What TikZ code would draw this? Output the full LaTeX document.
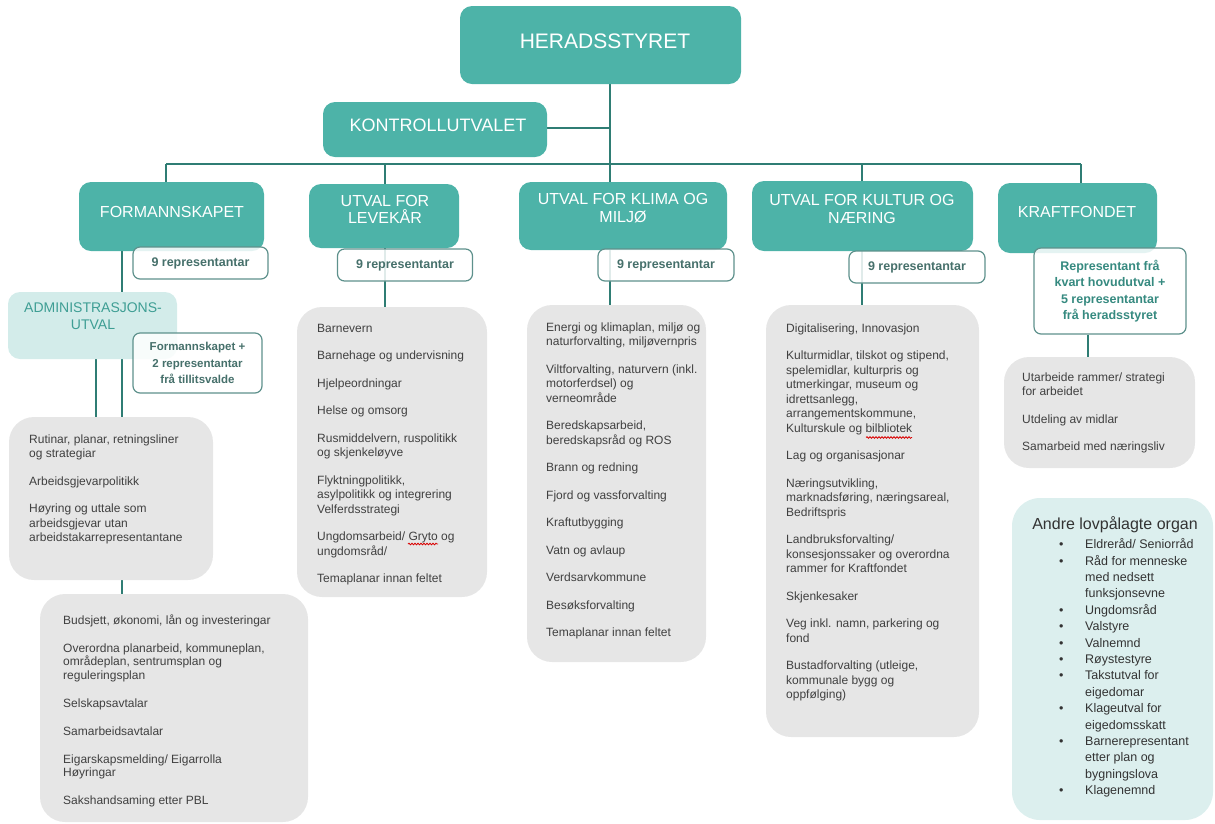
\documentclass[tikz,border=0pt]{standalone}
\usepackage{fontspec}
\setmainfont{Liberation Sans}
\usetikzlibrary{backgrounds,decorations.pathmorphing}
\definecolor{tealfill}{HTML}{4DB3A8}
\definecolor{linecol}{HTML}{2F7D74}
\definecolor{reprdraw}{HTML}{5E918C}
\definecolor{reprtxt}{HTML}{46706B}
\definecolor{kraftxt}{HTML}{368A80}
\definecolor{grayfill}{HTML}{E6E6E6}
\definecolor{graytxt}{HTML}{404040}
\definecolor{admfill}{HTML}{D3ECEA}
\definecolor{admtxt}{HTML}{3E9E94}
\definecolor{andrefill}{HTML}{DCEFEE}
\definecolor{andretxt}{HTML}{333333}
\begin{document}
\begin{tikzpicture}[x=1pt,y=-1pt,
 headbox/.style={fill=tealfill, rounded corners=12pt, inner sep=0},
 headtext/.style={text=white, align=center, inner sep=0, font=\fontsize{16}{17.5}\selectfont},
 reprbox/.style={draw=reprdraw, line width=1.2pt, fill=white, fill opacity=0.85, text opacity=1, rounded corners=7pt, inner sep=0, text=reprtxt, align=center, font=\bfseries\fontsize{12.5}{16.5}\selectfont},
 taskbox/.style={fill=grayfill, rounded corners=25pt, inner sep=0},
 tasktext/.style={anchor=north west, inner sep=0, align=left, text=graytxt, font=\fontsize{12}{14.5}\selectfont},
 conn/.style={draw=linecol, line width=2pt},
 spell/.style={draw=red!85!black, line width=0.8pt, decorate, decoration={snake, amplitude=0.8pt, segment length=3pt}},
]
\useasboundingbox (0,0) rectangle (1215,823);

% ---------- top level ----------
\node[headbox, minimum width=281pt, minimum height=78pt] (hs) at (600.5,45) {};
\node[headtext, font=\fontsize{21}{24}\selectfont] (hst) at (605,41) {HERADSSTYRET};

\node[headbox, minimum width=224pt, minimum height=55pt] (kon) at (435,129.5) {};
\node[headtext, font=\fontsize{18}{20}\selectfont] (kont) at (438,125) {KONTROLLUTVALET};

\coordinate (bus) at (610,164);
\coordinate (busL) at (166,164);
\coordinate (busR) at (1081,164);
\coordinate (xlev) at (385,164);
\coordinate (xkul) at (862,164);

% ---------- committees ----------
\node[headbox, minimum width=185pt, minimum height=69pt] (form) at (171.5,216.5) {};
\node[headtext] (formt) at (172,212) {FORMANNSKAPET};

\node[headbox, minimum width=150pt, minimum height=64pt] (lev) at (384,216) {};
\node[headtext] (levt) at (385,209.5) {UTVAL FOR\\LEVEKÅR};

\node[headbox, minimum width=208pt, minimum height=68pt] (kli) at (623,216) {};
\node[headtext] (klit) at (623,208) {UTVAL FOR KLIMA OG\\MILJØ};

\node[headbox, minimum width=221pt, minimum height=70pt] (kul) at (862.5,216) {};
\node[headtext] (kult) at (862,209) {UTVAL FOR KULTUR OG\\NÆRING};

\node[headbox, minimum width=159pt, minimum height=70pt] (kra) at (1077.5,218) {};
\node[headtext] (krat) at (1077,212) {KRAFTFONDET};

% ---------- representative boxes ----------
\node[reprbox, minimum width=135pt, minimum height=32pt] (r1) at (200.5,263) {9 representantar};
\node[reprbox, minimum width=135pt, minimum height=32pt] (r2) at (405,265) {9 representantar};
\node[reprbox, minimum width=136pt, minimum height=32pt] (r3) at (666,265) {9 representantar};
\node[reprbox, minimum width=136pt, minimum height=32pt] (r4) at (917,267) {9 representantar};
\node[reprbox, minimum width=152pt, minimum height=86pt, text=kraftxt] (r5) at (1110,291) {Representant frå\\kvart hovudutval +\\5 representantar\\frå heradsstyret};

% ---------- administrasjonsutval ----------
\node[fill=admfill, rounded corners=12pt, inner sep=0, minimum width=169pt, minimum height=67pt] (adm) at (92.5,325.5) {};
\node[inner sep=0, align=center, text=admtxt, font=\fontsize{14}{17}\selectfont] (admt) at (93,316) {ADMINISTRASJONS-\\UTVAL};
\node[reprbox, minimum width=129pt, minimum height=60pt, font=\bfseries\fontsize{11.5}{16.5}\selectfont] (r6) at (197.5,363) {Formannskapet +\\2 representantar\\frå tillitsvalde};

% ---------- task boxes ----------
\node[taskbox, minimum width=204pt, minimum height=163pt] (g1) at (111,498.5) {};
\node[tasktext] (g1t) at (29,434.5) {Rutinar, planar, retningsliner\\og strategiar\\[13pt]Arbeidsgjevarpolitikk\\[13pt]Høyring og uttale som\\arbeidsgjevar utan\\arbeidstakarrepresentantane};

\node[taskbox, minimum width=268pt, minimum height=228pt] (g2) at (174,708) {};
\node[tasktext, font=\fontsize{12}{13.5}\selectfont] (g2t) at (63,614.5) {Budsjett, økonomi, lån og investeringar\\[14.5pt]Overordna planarbeid, kommuneplan,\\områdeplan, sentrumsplan og\\reguleringsplan\\[14.5pt]Selskapsavtalar\\[14.5pt]Samarbeidsavtalar\\[14.5pt]Eigarskapsmelding/ Eigarrolla\\Høyringar\\[14.5pt]Sakshandsaming etter PBL};

\node[taskbox, minimum width=190pt, minimum height=290pt] (g3) at (392,452) {};
\node[tasktext] (g3t) at (317,324) {Barnevern\\[13pt]Barnehage og undervisning\\[13pt]Hjelpeordningar\\[13pt]Helse og omsorg\\[13pt]Rusmiddelvern, ruspolitikk\\og skjenkeløyve\\[13pt]Flyktningpolitikk,\\asylpolitikk og integrering\\Velferdsstrategi\\[13pt]Ungdomsarbeid/ Gryto og\\ungdomsråd/\\[13pt]Temaplanar innan feltet};

\node[taskbox, minimum width=179pt, minimum height=357pt] (g4) at (616.5,483.5) {};
\node[tasktext] (g4t) at (546,322.5) {Energi og klimaplan, miljø og\\naturforvalting, miljøvernpris\\[13pt]Viltforvalting, naturvern (inkl.\\motorferdsel) og\\verneområde\\[13pt]Beredskapsarbeid,\\beredskapsråd og ROS\\[13pt]Brann og redning\\[13pt]Fjord og vassforvalting\\[13pt]Kraftutbygging\\[13pt]Vatn og avlaup\\[13pt]Verdsarvkommune\\[13pt]Besøksforvalting\\[13pt]Temaplanar innan feltet};

\node[taskbox, minimum width=213pt, minimum height=432pt] (g5) at (872.5,521) {};
\node[tasktext] (g5t) at (786,323.5) {Digitalisering, Innovasjon\\[13pt]Kulturmidlar, tilskot og stipend,\\spelemidlar, kulturpris og\\utmerkingar, museum og\\idrettsanlegg,\\arrangementskommune,\\Kulturskule og bilbliotek\\[13pt]Lag og organisasjonar\\[13pt]Næringsutvikling,\\marknadsføring, næringsareal,\\Bedriftspris\\[13pt]Landbruksforvalting/\\konsesjonssaker og overordna\\rammer for Kraftfondet\\[13pt]Skjenkesaker\\[13pt]Veg inkl. namn, parkering og\\fond\\[13pt]Bustadforvalting (utleige,\\kommunale bygg og\\oppfølging)};

\node[taskbox, minimum width=191pt, minimum height=111pt] (g6) at (1099.5,412.5) {};
\node[tasktext] (g6t) at (1022,372.5) {Utarbeide rammer/ strategi\\for arbeidet\\[13pt]Utdeling av midlar\\[13pt]Samarbeid med næringsliv};

% ---------- andre lovpaalagte organ ----------
\node[fill=andrefill, rounded corners=28pt, inner sep=0, minimum width=201pt, minimum height=322pt] (andre) at (1112.5,659) {};
\node[inner sep=0, text=andretxt, font=\fontsize{16}{18}\selectfont] (andret) at (1115,525) {Andre lovpålagte organ};
\node[anchor=north west, inner sep=0, align=left, text=andretxt, font=\fontsize{12.5}{16.4}\selectfont] (andrel) at (1059,538.5) {%
\makebox[26pt][l]{\textbullet}Eldreråd/ Seniorråd\\
\makebox[26pt][l]{\textbullet}Råd for menneske\\
\hspace*{26pt}med nedsett\\
\hspace*{26pt}funksjonsevne\\
\makebox[26pt][l]{\textbullet}Ungdomsråd\\
\makebox[26pt][l]{\textbullet}Valstyre\\
\makebox[26pt][l]{\textbullet}Valnemnd\\
\makebox[26pt][l]{\textbullet}Røystestyre\\
\makebox[26pt][l]{\textbullet}Takstutval for\\
\hspace*{26pt}eigedomar\\
\makebox[26pt][l]{\textbullet}Klageutval for\\
\hspace*{26pt}eigedomsskatt\\
\makebox[26pt][l]{\textbullet}Barnerepresentant\\
\hspace*{26pt}etter plan og\\
\hspace*{26pt}bygningslova\\
\makebox[26pt][l]{\textbullet}Klagenemnd};

% spell-check marks
\coordinate (sp1a) at (408,544);
\coordinate (sp1b) at (438,544);
\coordinate (sp2a) at (866,437.5);
\coordinate (sp2b) at (912,437.5);
\draw[spell] (sp1a) -- (sp1b);
\draw[spell] (sp2a) -- (sp2b);

% ---------- connectors ----------
\begin{pgfonlayer}{background}
\draw[conn] (hs.south -| bus) -- (bus);
\draw[conn] (kon.east |- 0,128) -- (bus |- 0,128);
\draw[conn] (busL) -- (busR);
\draw[conn] (busL) -- (busL |- form.north);
\draw[conn] (xlev) -- (xlev |- lev.north);
\draw[conn] (bus) -- (bus |- kli.north);
\draw[conn] (xkul) -- (xkul |- kul.north);
\draw[conn] (busR) -- (busR |- kra.north);
\draw[conn] (form.south -| 122,0) -- (g1.north -| 122,0);
\draw[conn] (adm.south -| 96,0) -- (g1.north -| 96,0);
\draw[conn] (g1.south -| 122,0) -- (g2.north -| 122,0);
\draw[conn] (lev.south -| xlev) -- (g3.north -| xlev);
\draw[conn] (kli.south -| bus) -- (g4.north -| bus);
\draw[conn] (kul.south -| xkul) -- (g5.north -| xkul);
\draw[conn] (r5.south -| 1088,0) -- (g6.north -| 1088,0);
\end{pgfonlayer}
\end{tikzpicture}
\end{document}
